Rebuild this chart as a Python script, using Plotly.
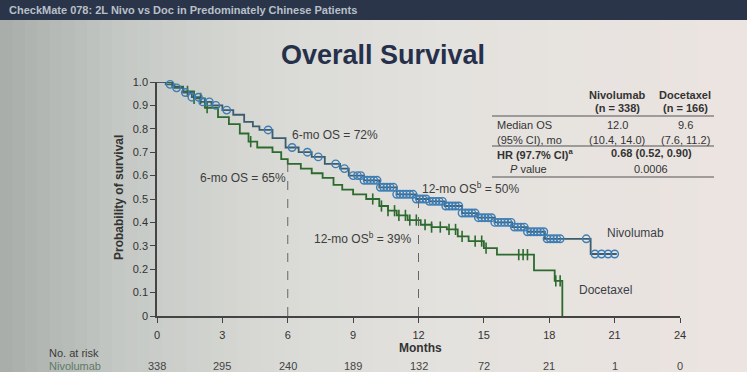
import numpy as np
import plotly.graph_objects as go

W, H = 747, 372
L, R, T, B = 157, 680, 82, 316  # plot area in pixels

# ---------------- data ----------------
nivo_t = [0, 0.4, 0.8, 1.2, 1.6, 2.0, 2.5, 3.0, 3.5, 4.0, 4.4, 4.7, 5.3, 5.9, 6.5, 7.1, 7.7,
          8.4, 8.8, 9.5, 10.2, 11.0, 11.9, 12.5, 13.2, 14.0, 14.7, 15.5, 16.3, 17.0, 17.8, 19.9, 21.1]
nivo_s = [1.0, 0.99, 0.975, 0.955, 0.935, 0.915, 0.9, 0.88, 0.86, 0.83, 0.81, 0.795, 0.76, 0.72,
          0.70, 0.68, 0.65, 0.63, 0.60, 0.58, 0.55, 0.52, 0.50, 0.49, 0.47, 0.44, 0.42, 0.40,
          0.38, 0.36, 0.33, 0.265, 0.265]
nivo_cens = [0.6, 0.9, 1.3, 1.6, 1.9, 2.1, 2.4, 2.7, 3.2, 5.1, 6.2, 6.9, 7.4, 8.2, 8.6, 9.0,
             9.2, 9.35, 9.5, 9.65, 9.8, 9.95, 10.1, 10.25, 10.4, 10.55, 10.7, 10.85, 11.0,
             11.15, 11.3, 11.45, 11.6, 11.75, 11.9, 12.05, 12.2, 12.35, 12.5, 12.65, 12.8,
             12.95, 13.1, 13.25, 13.4, 13.55, 13.7, 13.85, 14.0, 14.15, 14.3, 14.45, 14.6,
             14.75, 14.9, 15.05, 15.2, 15.35, 15.5, 15.65, 15.8, 15.95, 16.1, 16.25, 16.4,
             16.55, 16.7, 16.85, 17.0, 17.15, 17.3, 17.45, 17.6, 17.75, 17.9, 18.05, 18.2,
             18.35, 18.5, 19.7, 20.1, 20.4, 20.7, 21.0]

doc_t = [0, 0.7, 1.2, 1.7, 2.2, 2.8, 3.3, 3.8, 4.2, 4.6, 5.3, 5.7, 6.0, 6.6, 7.1, 7.6, 8.1,
         8.5, 9.0, 9.6, 10.2, 10.6, 11.0, 11.5, 12.1, 12.6, 13.3, 13.8, 14.3, 15.0, 15.6,
         17.3, 18.25, 18.6]
doc_s = [1.0, 0.98, 0.96, 0.93, 0.89, 0.85, 0.82, 0.78, 0.745, 0.72, 0.70, 0.67, 0.65, 0.63,
         0.61, 0.59, 0.56, 0.54, 0.52, 0.50, 0.47, 0.45, 0.43, 0.41, 0.39, 0.38, 0.37, 0.34,
         0.32, 0.29, 0.262, 0.195, 0.15, 0.0]
doc_cens = [1.4, 1.7, 2.0, 2.3, 4.3, 9.9, 10.3, 10.6, 10.9, 11.1, 11.4, 11.6, 11.9, 12.3,
            12.6, 13.0, 13.4, 13.7, 14.0, 14.6, 14.9, 15.1, 16.6, 16.8, 17.0, 18.3, 18.5]

x_ticks = [0, 3, 6, 9, 12, 15, 18, 21, 24]
y_ticks = [0, 0.1, 0.2, 0.3, 0.4, 0.5, 0.6, 0.7, 0.8, 0.9, 1.0]
y_ticktext = ["0", "0.1", "0.2", "0.3", "0.4", "0.5", "0.6", "0.7", "0.8", "0.9", "1.0"]
nivo_at_risk = [338, 295, 240, 189, 132, 72, 21, 1, 0]

landmark_months = [6, 12]
nivo_landmark = [0.72, 0.50]
doc_landmark = [0.65, 0.39]

FONT = "Liberation Sans, Arial, sans-serif"
TXT = "#3a3a3a"
NIVO_LINE = "#3b5d6e"
NIVO_MARK = "#3d7db5"
DOC = "#2c6a2e"


def surv_at(ts, ss, t):
    i = int(np.searchsorted(np.array(ts), t, side="right")) - 1
    return ss[max(i, 0)]


def px(x):
    return (x - L) / (R - L)


def py(y):
    return (B - y) / (B - T)


fig = go.Figure()

# background gradient stripes (photo vignette)
stops = [(0, (168, 173, 169)), (120, (196, 200, 196)), (260, (216, 217, 213)),
         (450, (228, 226, 222)), (747, (236, 228, 225))]
shapes = []
n = 60
for k in range(n):
    x0 = k * W / n
    x1 = (k + 1) * W / n
    xc = (x0 + x1) / 2
    for j in range(len(stops) - 1):
        if stops[j][0] <= xc <= stops[j + 1][0]:
            f = (xc - stops[j][0]) / (stops[j + 1][0] - stops[j][0])
            c = [round(stops[j][1][m] + f * (stops[j + 1][1][m] - stops[j][1][m])) for m in range(3)]
            break
    shapes.append(dict(type="rect", xref="paper", yref="paper", x0=px(x0), x1=px(x1 + 1),
                       y0=py(H), y1=py(0), fillcolor=f"rgb({c[0]},{c[1]},{c[2]})", line_width=0,
                       layer="below"))

# banner
shapes.append(dict(type="rect", xref="paper", yref="paper", x0=px(0), x1=px(W), y0=py(20), y1=py(0),
                   fillcolor="#2a3549", line_width=0, layer="below"))

# landmark dashed lines
shapes.append(dict(type="line", xref="x", yref="y", x0=landmark_months[0], x1=landmark_months[0],
                   y0=0, y1=doc_landmark[0], line=dict(color="#666", width=1, dash="dash")))
shapes.append(dict(type="line", xref="x", yref="y", x0=landmark_months[1], x1=landmark_months[1],
                   y0=0, y1=nivo_landmark[1], line=dict(color="#666", width=1, dash="dash")))

# table rules
for yy in (116, 146, 177):
    shapes.append(dict(type="line", xref="paper", yref="paper", x0=px(492), x1=px(714),
                       y0=py(yy), y1=py(yy), line=dict(color="#555", width=1.2)))

# curves
fig.add_trace(go.Scatter(x=doc_t, y=doc_s, mode="lines", line=dict(color=DOC, width=1.8, shape="hv"),
                         showlegend=False, cliponaxis=False))
fig.add_trace(go.Scatter(x=doc_cens, y=[surv_at(doc_t, doc_s, t) for t in doc_cens], mode="markers",
                         marker=dict(symbol="line-ns-open", size=8, color=DOC,
                                     line=dict(color=DOC, width=1.6)),
                         showlegend=False, cliponaxis=False))
fig.add_trace(go.Scatter(x=nivo_t, y=nivo_s, mode="lines",
                         line=dict(color=NIVO_LINE, width=1.8, shape="hv"),
                         showlegend=False, cliponaxis=False))
fig.add_trace(go.Scatter(x=nivo_cens, y=[surv_at(nivo_t, nivo_s, t) for t in nivo_cens],
                         mode="markers",
                         marker=dict(symbol="circle-open", size=7.5, color=NIVO_MARK,
                                     line=dict(color=NIVO_MARK, width=1.4)),
                         showlegend=False, cliponaxis=False))

ann = []


def A(x, y, text, size=11, color=TXT, anchor="center", bold=False):
    if bold:
        text = f"<b>{text}</b>"
    ann.append(dict(x=px(x), y=py(y), xref="paper", yref="paper", text=text, showarrow=False,
                    font=dict(family=FONT, size=size, color=color), xanchor=anchor,
                    yanchor="middle"))


# banner text + title
A(7, 10, "CheckMate 078: 2L Nivo vs Doc in Predominately Chinese Patients", size=11,
  color="#b9c0c9", anchor="left", bold=True)
A(383, 55, "Overall Survival", size=27, color="#26304a", bold=True)

# axis titles
ann.append(dict(x=px(110), y=py(198), xref="paper", yref="paper", text="<b>Probability of survival</b>",
                showarrow=False, textangle=-90, font=dict(family=FONT, size=12, color="#333")))
A(420, 348, "Months", size=12, color="#333", bold=True)

# curve labels
A(605, 233, "Nivolumab", size=12, color="#3b3f48", anchor="left")
A(577, 290, "Docetaxel", size=12, color="#3b3f48", anchor="left")

# landmark labels
A(290, 135, "6-mo OS = 72%", size=12, color="#3d3d3d", anchor="left")
A(288, 178, "6-mo OS = 65%", size=12, color="#3d3d3d", anchor="right")
A(420, 188, "12-mo OS<sup>b</sup> = 50%", size=12, color="#3d3d3d", anchor="left")
A(312, 238, "12-mo OS<sup>b</sup> = 39%", size=12, color="#3d3d3d", anchor="left")

# table
A(617, 95, "Nivolumab", size=11, color="#333", bold=True)
A(617, 108, "(n = 338)", size=11, color="#333", bold=True)
A(685, 95, "Docetaxel", size=11, color="#333", bold=True)
A(685, 108, "(n = 166)", size=11, color="#333", bold=True)
A(495, 125, "Median OS", size=11, color="#333", anchor="left")
A(495, 140, "(95% CI), mo", size=11, color="#333", anchor="left")
A(617, 125, "12.0", size=11, color="#333")
A(617, 140, "(10.4, 14.0)", size=11, color="#333")
A(685, 125, "9.6", size=11, color="#333")
A(685, 140, "(7.6, 11.2)", size=11, color="#333")
A(495, 154, "HR (97.7% CI)<sup>a</sup>", size=11, color="#333", anchor="left", bold=True)
A(651, 153, "0.68 (0.52, 0.90)", size=11, color="#333", bold=True)
A(508, 169, "<i>P</i> value", size=11, color="#333", anchor="left")
A(651, 169, "0.0006", size=11, color="#333")

# at risk
A(47, 353, "No. at risk", size=11, color="#3a3a3a", anchor="left")
A(47, 366, "Nivolumab", size=11, color="#5e7a66", anchor="left")
for m, v in zip(x_ticks, nivo_at_risk):
    ann.append(dict(x=m, y=py(366), xref="x", yref="paper", text=str(v), showarrow=False,
                    font=dict(family=FONT, size=11, color="#444"), xanchor="center",
                    yanchor="middle"))

fig.update_layout(
    width=W, height=H, autosize=False,
    margin=dict(l=L, r=W - R, t=T, b=H - B, pad=0),
    paper_bgcolor="#d8d9d5", plot_bgcolor="rgba(0,0,0,0)",
    shapes=shapes, annotations=ann,
    font=dict(family=FONT, size=11, color="#333"),
    xaxis=dict(range=[0, 24], tickvals=x_ticks, ticktext=[str(v) for v in x_ticks],
               showgrid=False, zeroline=False, showline=True, linecolor="#444", linewidth=1.5,
               ticks="outside", ticklen=5, tickcolor="#444", tickwidth=1.2,
               tickfont=dict(family=FONT, size=11, color="#333"), ticklabelstandoff=3),
    yaxis=dict(range=[0, 1.0], tickvals=y_ticks, ticktext=y_ticktext,
               showgrid=False, zeroline=False, showline=True, linecolor="#444", linewidth=1.5,
               ticks="outside", ticklen=5, tickcolor="#444", tickwidth=1.2,
               tickfont=dict(family=FONT, size=11, color="#333")),
    showlegend=False,
)

fig.write_html("out.html", config={"displayModeBar": False},
               post_script="document.body.style.margin='0';")
